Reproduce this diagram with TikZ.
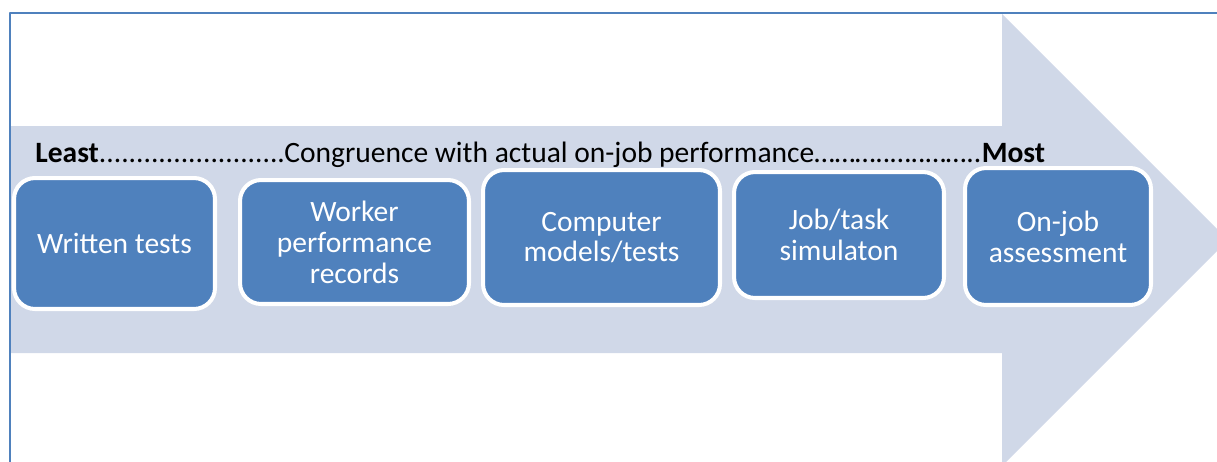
\documentclass[tikz,border=0pt]{standalone}
\usepackage{fontspec}
\setmainfont{Carlito}
\definecolor{azul}{HTML}{4F81BD}
\definecolor{flecha}{HTML}{D0D8E8}
\tikzset{
  caja/.style={draw=white, line width=2.3pt, fill=azul, rounded corners=0.42cm,
    text=white, align=center, inner sep=0pt,
    font=\fontsize{16.8}{17.6}\selectfont},
}
\begin{document}
\begin{tikzpicture}[x=0.02cm, y=-0.02cm, line join=round]
  \useasboundingbox (0,0) rectangle (1217,461);
  \clip (0,0) rectangle (1217,461);
  % la flecha de fondo, con la punta cortada por el borde
  \fill[flecha] (10,126) -- (1002,126) -- (1002,14) -- (1228,240)
    -- (1002,466) -- (1002,353) -- (10,353) -- cycle;
  % el marco (solo arriba y a la izquierda)
  \draw[azul, line width=1.1pt] (10,470) -- (10,13) -- (1220,13);
  % la escala de menos a mas
  \node[anchor=base west, inner sep=0pt, font=\fontsize{16.8}{17.6}\selectfont]
    (titulo) at (35,162)
    {\textbf{Least}.........................Congruence with actual on-job performance………..…..……..\textbf{Most}};
  % las cinco cajas (medidas en cm)
  \node[caja, minimum width=4.02cm, minimum height=2.62cm] (pruebas) at (114.5,243.5) {Written tests};
  \node[caja, minimum width=4.58cm, minimum height=2.48cm] (registros) at (354.5,242) {Worker\\performance\\records};
  \node[caja, minimum width=4.74cm, minimum height=2.7cm] (modelos) at (601.5,237.5) {Computer\\models/tests};
  \node[caja, minimum width=4.2cm, minimum height=2.52cm] (simulacion) at (839,235) {Job/task\\simulaton};
  \node[caja, minimum width=3.72cm, minimum height=2.74cm] (evaluacion) at (1058,236.5) {On-job\\assessment};
\end{tikzpicture}
\end{document}
